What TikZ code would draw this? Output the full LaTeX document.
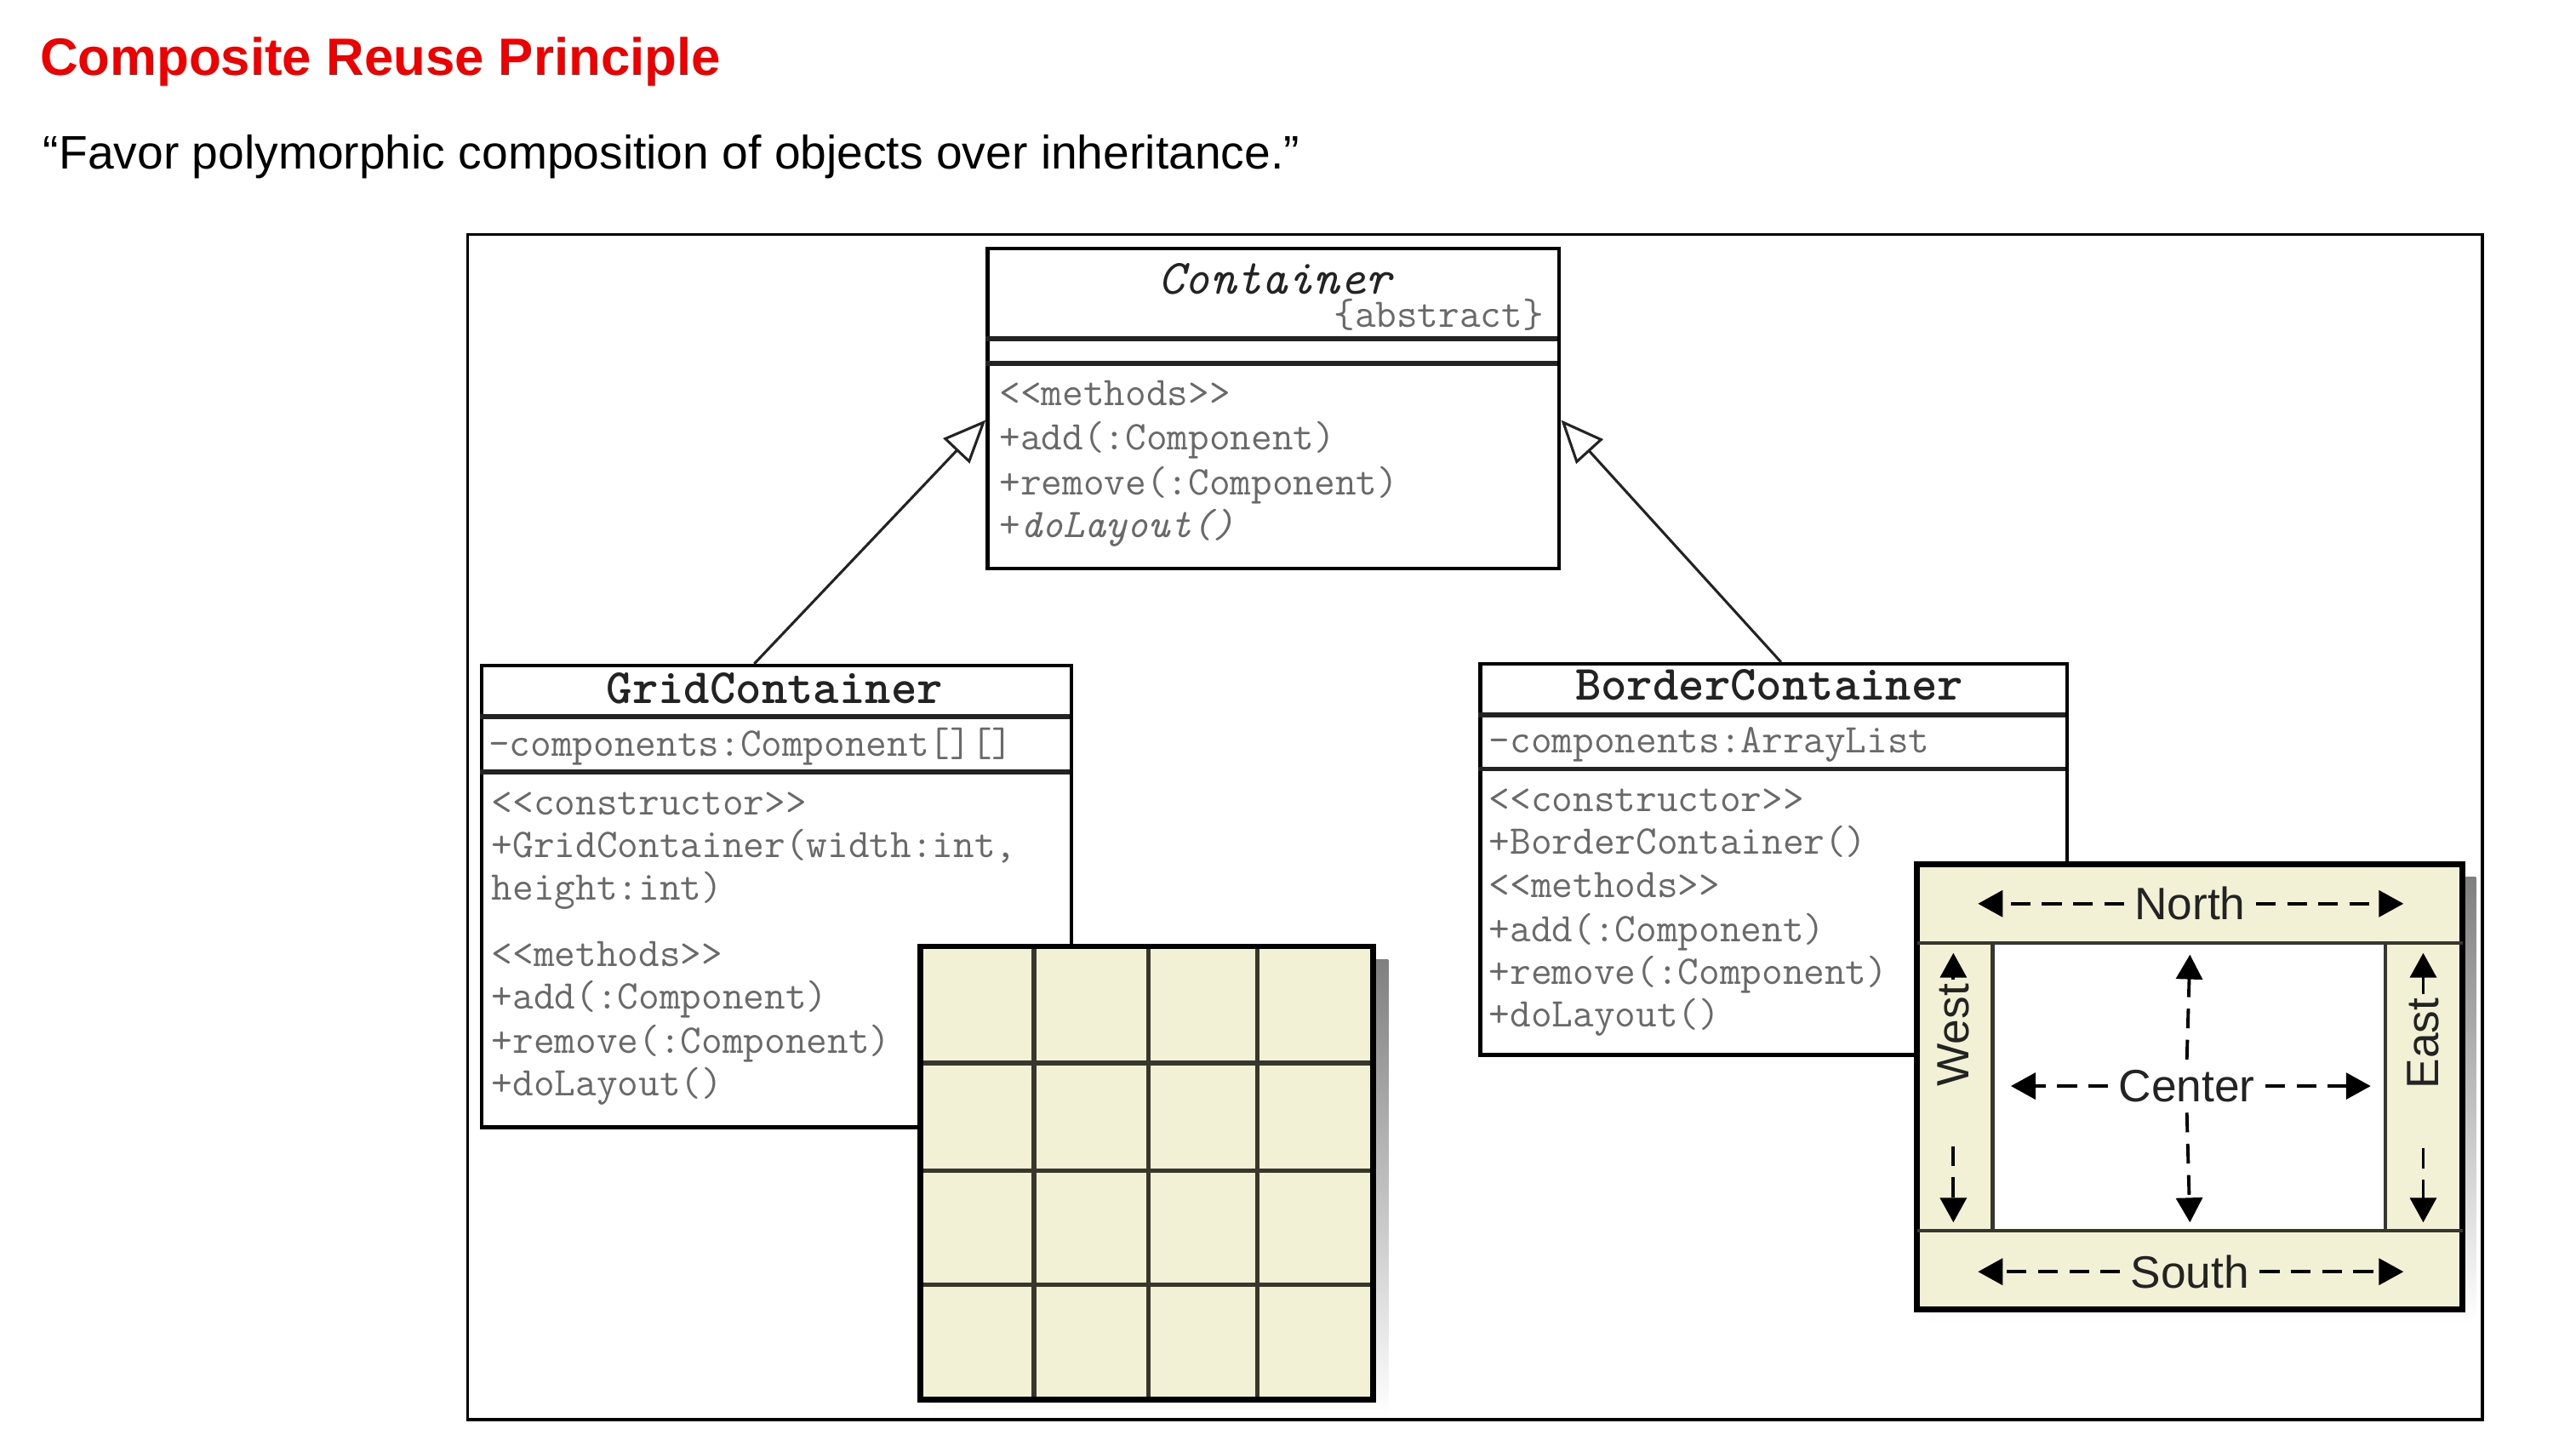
\documentclass[tikz,border=0pt]{standalone}
\usepackage{fontspec}
\setmainfont{Liberation Sans}
\usetikzlibrary{arrows.meta}
\definecolor{titlered}{RGB}{238,0,0}
\definecolor{umltext}{RGB}{105,105,105}
\definecolor{umldark}{RGB}{35,35,35}
\definecolor{cream}{RGB}{242,241,213}
\definecolor{shade}{RGB}{160,164,170}
\definecolor{gridline}{RGB}{55,55,45}
\tikzset{
  umlbox/.style={draw=black, line width=1.1pt, fill=white, inner sep=0pt, anchor=north west},
  compsep/.style={draw=umldark, line width=1.5pt},
  memb/.style={font=\ttfamily\fontsize{12.4}{14}\selectfont, text=umltext, inner sep=0pt, anchor=base west},
  cname/.style={font=\ttfamily\bfseries\fontsize{15}{17}\selectfont, text=umldark, inner sep=0pt, anchor=base},
  inherit/.style={draw=umldark, line width=0.8pt, -{Triangle[length=13pt, width=11pt, fill=white, line width=0.8pt]}},
  gridrule/.style={draw=gridline, line width=1.4pt},
  panelframe/.style={draw=black, line width=1.8pt, fill=cream},
  dirlabel/.style={font=\fontsize{13.8}{16}\selectfont, text=umldark, inner sep=1pt},
  dirarrow/.style={draw=black, line width=1pt, dash pattern=on 6pt off 3.5pt, -{Triangle[length=7.5pt, width=8pt]}},
  outerframe/.style={draw=black, line width=0.8pt},
}
\begin{document}
\begin{tikzpicture}[x=0.5pt, y=-0.5pt]
\useasboundingbox (0,0) rectangle (1568,880);
% heading
\node[anchor=base west, inner sep=0pt, text=titlered, font=\bfseries\fontsize{16}{19}\selectfont] (title) at (24,46) {Composite Reuse Principle};
\node[anchor=base west, inner sep=0pt, font=\fontsize{14.3}{17}\selectfont] (quote) at (26,103) {“Favor polymorphic composition of objects over inheritance.”};
% frame
\draw[outerframe] (284.5,142.5) rectangle (1511,864);

% Container
\node[umlbox, minimum width=174pt, minimum height=97.5pt] (cont) at (600,150) {};
\draw[compsep] (600,206) -- (948,206);
\draw[compsep] (600,221) -- (948,221);
\node[cname, font=\ttfamily\itshape\fontsize{15}{17}\selectfont] (contname) at (776,179) {Container};
\node[memb, anchor=base east] (abs) at (940,199) {\{abstract\}};
\node[memb] (c1) at (608,247) {<{}<methods>{}>};
\node[memb] (c2) at (608,274) {+add(:Component)};
\node[memb] (c3) at (608,301) {+remove(:Component)};
\node[memb] (c4) at (608,327) {+\textit{doLayout()}};

% GridContainer
\node[umlbox, minimum width=179.5pt, minimum height=140.5pt] (gc) at (292,404) {};
\draw[compsep] (292,436) -- (651,436);
\draw[compsep] (292,470) -- (651,470);
\node[cname] (gcname) at (471.5,428) {GridContainer};
\node[memb] (g0) at (297,460) {-components:Component[][]};
\node[memb] (g1) at (299,496) {<{}<constructor>{}>};
\node[memb] (g2) at (299,522) {+GridContainer(width:int,};
\node[memb] (g3) at (299,548) {height:int)};
\node[memb] (g4) at (299,588) {<{}<methods>{}>};
\node[memb] (g5) at (299,614) {+add(:Component)};
\node[memb] (g6) at (299,641) {+remove(:Component)};
\node[memb] (g7) at (299,667) {+doLayout()};

% BorderContainer
\node[umlbox, minimum width=178.5pt, minimum height=119pt] (bc) at (900,403) {};
\draw[compsep] (900,435) -- (1257,435);
\draw[compsep] (900,468) -- (1257,468);
\node[cname] (bcname) at (1077,426) {BorderContainer};
\node[memb] (b0) at (906,458) {-components:ArrayList};
\node[memb] (b1) at (906,494) {<{}<constructor>{}>};
\node[memb] (b2) at (906,520) {+BorderContainer()};
\node[memb] (b3) at (906,546) {<{}<methods>{}>};
\node[memb] (b4) at (906,573) {+add(:Component)};
\node[memb] (b5) at (906,599) {+remove(:Component)};
\node[memb] (b6) at (906,625) {+doLayout()};

% inheritance
\draw[inherit] ([xshift=-6.75pt]gc.north) -- ([yshift=-3.5pt]cont.west);
\draw[inherit] ([xshift=2.25pt]bc.north) -- ([yshift=-3.5pt]cont.east);

% grid layout panel
\fill[shade] (568,584) rectangle (845,861);
\fill[cream] (560,576) rectangle (836,852);
\draw[gridrule] (629.3,576) -- (629.3,852);
\draw[gridrule] (698.9,576) -- (698.9,852);
\draw[gridrule] (765.2,576) -- (765.2,852);
\draw[gridrule] (560,647) -- (836,647);
\draw[gridrule] (560,712.6) -- (836,712.6);
\draw[gridrule] (560,782) -- (836,782);
\draw[draw=black, line width=1.8pt] (560,576) rectangle (836,852);

% border layout panel
\fill[shade] (1175,534) rectangle (1507,805);
\draw[panelframe] (1167,526) rectangle (1499,797);
\draw[fill=white, draw=gridline, line width=1.2pt] (1213,574) rectangle (1452,749);
\draw[draw=gridline, line width=1.2pt] (1167,574) -- (1499,574);
\draw[draw=gridline, line width=1.2pt] (1167,749) -- (1499,749);

\node[dirlabel] (north) at (1333,550) {North};
\node[dirlabel] (south) at (1333,774) {South};
\node[dirlabel] (center) at (1331,661) {Center};
\node[dirlabel, rotate=90] (west) at (1189,630) {West};
\node[dirlabel, rotate=90] (east) at (1475,635) {East};

\coordinate (nL) at (1204,550);
\coordinate (nR) at (1463,550);
\coordinate (sL) at (1204,774);
\coordinate (sR) at (1463,774);
\coordinate (cL) at (1224,661);
\coordinate (cR) at (1443,661);
\coordinate (cU) at (1333,581);
\coordinate (cD) at (1333,744);
\coordinate (wU) at (1189,580);
\coordinate (wD) at (1189,744);
\coordinate (eU) at (1475,580);
\coordinate (eD) at (1475,744);

\draw[dirarrow, shorten <=2pt] (north.west) -- (nL);
\draw[dirarrow, shorten <=2pt] (north.east) -- (nR);
\draw[dirarrow, shorten <=2pt] (south.west) -- (sL);
\draw[dirarrow, shorten <=2pt] (south.east) -- (sR);
\draw[dirarrow, shorten <=2pt] (center.west) -- (cL);
\draw[dirarrow, shorten <=2pt] (center.east) -- (cR);
\draw[dirarrow, shorten <=2pt] (center.north) -- (cU);
\draw[dirarrow, shorten <=2pt] (center.south) -- (cD);
\draw[dirarrow] (west.east) -- (wU);
\draw[dirarrow, shorten <=17pt] (west.west) -- (wD);
\draw[dirarrow] (east.east) -- (eU);
\draw[dirarrow, shorten <=17pt] (east.west) -- (eD);
\end{tikzpicture}
\end{document}
